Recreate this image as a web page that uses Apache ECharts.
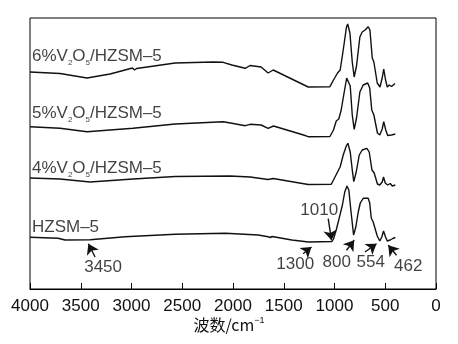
<!DOCTYPE html>
<html>
<head>
<meta charset="utf-8">
<script src="https://cdn.jsdelivr.net/npm/echarts@6/dist/echarts.min.js"></script>
<style>
html,body{margin:0;padding:0;background:#fff;}
#c{width:458px;height:344px;}
</style>
</head>
<body>
<div id="c"></div>
<script>
// x tick labels
const xTicks = [4000, 3500, 3000, 2500, 2000, 1500, 1000, 500, 0];

// 6%V2O5/HZSM-5
const s6_wn = [4000,3704,3438,3211,2990,2970,2950,2570,2196,2097,2011,1950,1880,1831,1723,1654,1604,1259,1045,1010,970,944,914,882,870,848,825,806,783,750,727,698,668,651,628,612,579,552,530,515,497,480,460,438,404];
const s6_t  = [217,215.5,211,215,221,219,220.5,226,227,226.7,224,222.5,220.7,223.5,222,216,219,202,202.3,209,216,219,239,262,265,256,227,212,223,252,257,259,262.3,259,231,227,206,202,211,220,209,202,204,202.5,205.5];

// 5%V2O5/HZSM-5
const s5_wn = [4000,3704,3438,2985,2570,2097,2011,1880,1831,1723,1654,1601,1305,1259,1045,1010,983,958,934,904,880,868,845,825,806,783,750,717,673,653,633,612,577,554,530,515,495,476,438,401];
const s5_t  = [162.3,160.7,157.3,160.7,165,167.3,165.7,163.3,164.7,164,160.7,163,154,152.3,152.5,159,168,170,179,197,211,213,203,174,159.7,171,197,204,206,201,179,174,156,154,160,167.3,159,153.5,154,155];

// 4%V2O5/HZSM-5
const s4_wn = [4000,3704,3408,2985,2570,2028,1831,1654,1604,1259,1032,1000,970,944,914,884,868,845,825,810,786,756,727,681,658,631,609,577,554,530,517,500,476,451,431,401];
const s4_t  = [111,110,107,110,112.5,113,112,109.5,110.5,104.5,104.7,111,117,122.3,134,143,145.7,137,119,107.3,117,134,139,140.7,137,119,116,105,104,107,112,106,104,105.5,103,104];

// HZSM-5
const hz_wn = [4000,3724,3655,3408,3063,2570,2077,1752,1654,1634,1614,1420,1256,1025,1010,983,950,922,899,877,859,839,812,790,766,746,717,668,653,638,619,579,554,534,517,497,480,451,426,401];
const hz_t  = [51.7,50.7,49,49.3,52.3,54.7,55.7,54,52.3,51.5,52.5,49,47,47.5,50,59,72.3,84,97,103,99,79,54,62,77,86,90.7,90.7,86,71,67,53,48,52,58,52,48,49,50.5,51.5];

// curve labels: text, anchor [wn, value]
const curveLabels = ['{n|6%V}{s|2}{n|O}{s|5}{n|/HZSM–5}', '{n|5%V}{s|2}{n|O}{s|5}{n|/HZSM–5}', '{n|4%V}{s|2}{n|O}{s|5}{n|/HZSM–5}', '{n|HZSM–5}'];
const curveLabelPos = [[4000, 232.5], [4000, 176], [4000, 121], [4000, 61.5]];

// band annotations
const bandText = ['3450', '1300', '1010', '800', '554', '462'];
const bandTextPos = [[3280, 21.5], [1387, 25], [1151, 79], [978, 27], [643, 27], [273, 23]];
const arrowFrom = [[3359, 32], [1309, 35.3], [1062, 70.3], [882, 38.7], [700, 37], [389, 33.7]];
const arrowTo   = [[3425, 45.3], [1227, 42], [1029, 48.7], [806, 48.7], [586, 45.3], [470, 43.7]];

const FONT = "'Liberation Sans', Arial, 'Noto Sans CJK SC', sans-serif";
const INK = '#111';

function pairs(x, y) { return x.map((v, i) => [v, y[i]]); }

function lineSeries(name, x, y, extra) {
  return Object.assign({
    name, type: 'line', data: pairs(x, y), symbol: 'none', smooth: false,
    lineStyle: { color: INK, width: 1.4 }, silent: true, animation: false, z: 3
  }, extra || {});
}

const chart = echarts.init(document.getElementById('c'), null, { renderer: 'canvas' });
chart.setOption({
  backgroundColor: '#fff',
  animation: false,
  grid: { left: 30, top: 18, right: 22, bottom: 55, show: true, borderColor: '#000', borderWidth: 1, backgroundColor: 'transparent' },
  xAxis: {
    type: 'value', inverse: true, min: 0, max: 4000, interval: 500,
    axisLine: { show: true, lineStyle: { color: '#000', width: 1 } },
    axisTick: { show: true, inside: true, length: 6, lineStyle: { color: '#000', width: 1 } },
    splitLine: { show: false },
    axisLabel: { fontFamily: FONT, fontSize: 17, color: INK, margin: 9,
      formatter: v => xTicks.indexOf(v) >= 0 ? String(v) : '' }
  },
  yAxis: { type: 'value', min: 0, max: 271, show: false, splitLine: { show: false } },
  series: [
    lineSeries('6%', s6_wn, s6_t, {
      markLine: {
        silent: true, symbol: ['none', 'arrow'], symbolSize: 10,
        lineStyle: { color: INK, width: 1.4, type: 'solid' },
        itemStyle: { color: INK },
        label: { show: false },
        data: arrowFrom.map((f, i) => [
          { coord: f, symbol: 'none' },
          { coord: arrowTo[i], symbol: 'arrow', symbolSize: 10 }
        ])
      }
    }),
    lineSeries('5%', s5_wn, s5_t),
    lineSeries('4%', s4_wn, s4_t),
    lineSeries('HZSM-5', hz_wn, hz_t),
    {
      type: 'scatter', symbolSize: 0, silent: true, animation: false, z: 5,
      data: curveLabelPos.map((p, i) => ({ value: p, name: curveLabels[i] })),
      label: {
        show: true, position: 'right', distance: 2,
        formatter: p => p.name,
        fontFamily: FONT, fontSize: 17, color: INK,
        rich: {
          n: { fontFamily: FONT, fontSize: 17, color: INK, lineHeight: 21, verticalAlign: 'middle' },
          s: { fontFamily: FONT, fontSize: 8, color: INK, lineHeight: 8, verticalAlign: 'bottom' }
        }
      }
    },
    {
      type: 'scatter', symbolSize: 0, silent: true, animation: false, z: 5,
      data: bandTextPos.map((p, i) => ({ value: p, name: bandText[i] })),
      label: { show: true, position: 'inside', formatter: p => p.name, fontFamily: FONT, fontSize: 17, color: INK }
    }
  ],
  graphic: [
    {
      type: 'text', left: 'center', top: 316,
      style: {
        text: '波数/cm{sup|−1}',
        font: "16px 'Noto Sans CJK SC', sans-serif",
        fill: INK,
        rich: {
          sup: { fontSize: 9, fontFamily: FONT, fill: INK, verticalAlign: 'top', lineHeight: 18 }
        }
      }
    }
  ]
});
</script>
</body>
</html>
